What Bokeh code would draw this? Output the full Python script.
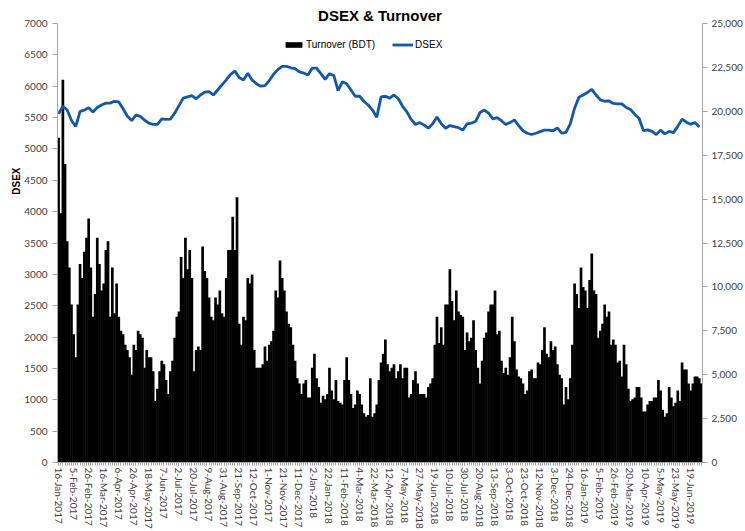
from bokeh.plotting import figure
from bokeh.models import (Range1d, LinearAxis, SingleIntervalTicker, FixedTicker,
                          NumeralTickFormatter, Legend, LegendItem, Title, ColumnDataSource)
from bokeh.embed import file_html
from bokeh.resources import INLINE

# ---------------- data ----------------
date_labels = ["16-Jan-2017", "5-Feb-2017", "26-Feb-2017", "16-Mar-2017", "6-Apr-2017", "26-Apr-2017",
               "18-May-2017", "7-Jun-2017", "2-Jul-2017", "20-Jul-2017", "9-Aug-2017", "31-Aug-2017",
               "21-Sep-2017", "12-Oct-2017", "1-Nov-2017", "21-Nov-2017", "11-Dec-2017", "2-Jan-2018",
               "22-Jan-2018", "11-Feb-2018", "4-Mar-2018", "22-Mar-2018", "12-Apr-2018", "7-May-2018",
               "27-May-2018", "19-Jun-2018", "10-Jul-2018", "30-Jul-2018", "20-Aug-2018", "13-Sep-2018",
               "3-Oct-2018", "23-Oct-2018", "12-Nov-2018", "3-Dec-2018", "24-Dec-2018", "16-Jan-2019",
               "5-Feb-2019", "26-Feb-2019", "20-Mar-2019", "10-Apr-2019", "5-May-2019", "23-May-2019",
               "19-Jun-2019"]
label_every = 7  # data points between labelled dates

# Turnover (BDT mn), one value per two trading sessions
turnover = [
    18500, 14200, 21800, 17000, 12600, 11100, 9000, 7300, 6000, 9000,
    11300, 10500, 12000, 12800, 13900, 11100, 8300, 9600, 12800, 11300,
    9800, 10200, 12100, 12600, 8300, 11100, 8500, 10200, 8300, 7500,
    7300, 6700, 6400, 6000, 5000, 6700, 6400, 7500, 7300, 7100,
    5400, 6400, 6000, 6000, 5200, 3500, 4200, 5200, 5800, 5600,
    4700, 3900, 5200, 5800, 7100, 8300, 8600, 11700, 10500, 12800,
    11000, 12100, 10500, 5200, 6400, 6600, 6400, 12300, 10900, 10500,
    9400, 8300, 8100, 9400, 9000, 9800, 8500, 8300, 10500, 12100,
    12100, 14000, 12100, 15100, 7900, 6700, 8300, 8100, 10500, 10200,
    10700, 6400, 5400, 5400, 5400, 5600, 6600, 5800, 6700, 6900,
    7500, 9800, 9400, 11500, 10500, 9800, 8600, 7900, 7700, 6700,
    5800, 4800, 4500, 3900, 4500, 4700, 3700, 3700, 5400, 6200,
    4800, 4300, 3400, 3800, 3600, 3900, 5400, 4100, 3600, 4700,
    3500, 3400, 3300, 4700, 6000, 4700, 3900, 3100, 3300, 4100,
    3900, 3300, 2800, 2600, 2700, 4800, 2600, 2800, 3300, 4700,
    5700, 6200, 7000, 5600, 5200, 5400, 5600, 4800, 5200, 5600,
    4800, 5400, 5400, 3700, 3900, 4700, 5200, 4500, 3900, 3900,
    3900, 3700, 4300, 4500, 4800, 6700, 8300, 6800, 7700, 6700,
    9000, 9000, 11000, 9200, 8100, 9800, 8600, 8400, 8300, 6400,
    7400, 6900, 7100, 8100, 6400, 5400, 4500, 5800, 7100, 7400,
    8600, 9000, 9000, 9800, 7300, 7500, 5800, 5100, 5400, 5000,
    6000, 8300, 6900, 5300, 4900, 4800, 4500, 3900, 4100, 5200,
    5300, 4800, 4800, 5700, 5600, 6400, 7700, 6200, 6000, 6900,
    6400, 6600, 5600, 5000, 4800, 3300, 4300, 3600, 4800, 6700,
    10200, 9600, 8800, 11100, 10000, 9800, 8800, 10400, 11900, 9800,
    9600, 7100, 7500, 7900, 9000, 8300, 8600, 6700, 7000, 6700,
    5700, 5800, 4900, 6700, 5600, 4200, 3500, 3600, 3700, 4300,
    4300, 3700, 2900, 2900, 3300, 3500, 3500, 3700, 3700, 4700,
    4100, 3000, 2600, 2800, 4300, 3700, 3200, 3400, 4100, 3500,
    5700, 5300, 5300, 4500, 4100, 4500, 4900, 4900, 4800, 4500,
]

# DSEX index, one value per four trading sessions
dsex = [
    5560, 5680, 5620, 5453, 5360, 5600, 5620, 5655, 5590, 5660,
    5700, 5730, 5730, 5760, 5750, 5640, 5520, 5453, 5540, 5520,
    5460, 5410, 5390, 5390, 5480, 5470, 5475, 5570, 5690, 5810,
    5830, 5850, 5800, 5860, 5905, 5915, 5860, 5940, 6020, 6100,
    6190, 6240, 6140, 6100, 6208, 6100, 6038, 6000, 6010, 6090,
    6190, 6265, 6315, 6315, 6294, 6280, 6230, 6210, 6180, 6290,
    6290, 6200, 6110, 6200, 6171, 5930, 6070, 6040, 5940, 5840,
    5840, 5760, 5700, 5620, 5506, 5830, 5840, 5810, 5860, 5800,
    5680, 5590, 5470, 5390, 5420, 5380, 5330, 5400, 5510, 5400,
    5330, 5373, 5355, 5340, 5300, 5400, 5410, 5440, 5580, 5620,
    5570, 5480, 5500, 5450, 5390, 5420, 5464, 5373, 5290, 5250,
    5230, 5250, 5275, 5300, 5300, 5290, 5336, 5250, 5265, 5400,
    5650, 5825, 5860, 5900, 5950, 5860, 5783, 5760, 5765, 5725,
    5719, 5719, 5660, 5630, 5550, 5490, 5293, 5304, 5280, 5230,
    5300, 5240, 5280, 5260, 5360, 5475, 5426, 5395, 5420, 5350,
]

# ---------------- positions ----------------
n = len(turnover)
bar_x = list(range(n))
dsex_step = n // len(dsex)
dsex_x = [i * dsex_step for i in range(len(dsex))]
tick_pos = [i * label_every for i in range(len(date_labels))]

GREY_AX = "#A6A6A6"
TICK_TXT = "#404040"
TICK_FONT = "Lato"

p = figure(width=745, height=531, output_backend="svg", toolbar_location=None,
           x_range=Range1d(-0.5, n - 0.5), y_range=Range1d(0, 7000),
           min_border_left=57, min_border_right=39, min_border_top=23, min_border_bottom=68,
           title="DSEX & Turnover")
p.extra_y_ranges = {"turnover": Range1d(0, 25000)}
p.xgrid.visible = False
p.ygrid.visible = False
p.outline_line_color = None
p.background_fill_color = "white"
p.border_fill_color = "white"

p.title.align = "center"
p.title.text_font = "Liberation Sans"
p.title.text_font_size = "15px"
p.title.text_font_style = "bold"
p.title.text_color = "#000000"
p.title.standoff = 0

# bars (turnover)
src = ColumnDataSource(dict(x=bar_x, top=turnover))
bars = p.vbar(x="x", top="top", bottom=0, width=1.25, source=src, y_range_name="turnover",
              fill_color="black", line_color=None)

# DSEX line
lsrc = ColumnDataSource(dict(x=dsex_x, y=dsex))
line = p.line(x="x", y="y", source=lsrc, line_color="#1257A8", line_width=2.8)

# left axis
ly = p.yaxis[0]
ly.ticker = SingleIntervalTicker(interval=500)
ly.axis_line_color = GREY_AX
ly.major_tick_line_color = GREY_AX
ly.major_tick_out = 5
ly.major_tick_in = 0
ly.minor_tick_line_color = None
ly.major_label_text_font = TICK_FONT
ly.major_label_text_font_size = "10px"
ly.major_label_text_color = TICK_TXT
ly.major_label_standoff = 5

# right axis
ry = LinearAxis(y_range_name="turnover", ticker=SingleIntervalTicker(interval=2500),
                formatter=NumeralTickFormatter(format="0,0"))
ry.axis_line_color = GREY_AX
ry.major_tick_line_color = GREY_AX
ry.major_tick_out = 5
ry.major_tick_in = 0
ry.minor_tick_line_color = None
ry.major_label_text_font = TICK_FONT
ry.major_label_text_font_size = "10px"
ry.major_label_text_color = TICK_TXT
ry.major_label_standoff = 4
p.add_layout(ry, "right")

# x axis
xa = p.xaxis[0]
xa.ticker = FixedTicker(ticks=tick_pos, minor_ticks=bar_x)
xa.major_label_overrides = {t: lab for t, lab in zip(tick_pos, date_labels)}
xa.major_label_orientation = "vertical"
xa.axis_line_color = GREY_AX
xa.major_tick_line_color = GREY_AX
xa.minor_tick_line_color = GREY_AX
xa.major_tick_out = 3
xa.major_tick_in = 0
xa.minor_tick_out = 3
xa.minor_tick_in = 0
xa.major_label_text_font = TICK_FONT
xa.major_label_text_font_size = "10px"
xa.major_label_text_color = TICK_TXT
xa.major_label_standoff = 2

# left axis title (placed in the left panel, upper part of the axis)
p.add_layout(Title(text="DSEX", align="right", offset=144, text_font="Liberation Sans",
                   text_font_size="10px", text_font_style="bold", text_color="#000000",
                   standoff=0), "left")

legend = Legend(items=[LegendItem(label="Turnover (BDT)", renderers=[bars]),
                       LegendItem(label="DSEX", renderers=[line])],
                orientation="horizontal", location=(226, 412),
                border_line_color=None, background_fill_alpha=0,
                padding=0, margin=0, spacing=17, glyph_width=21, glyph_height=7,
                label_height=10, label_standoff=2,
                label_text_font="Liberation Sans", label_text_font_size="10px",
                label_text_color="#000000")
p.add_layout(legend)

open("out.html", "w").write(file_html(p, INLINE))
